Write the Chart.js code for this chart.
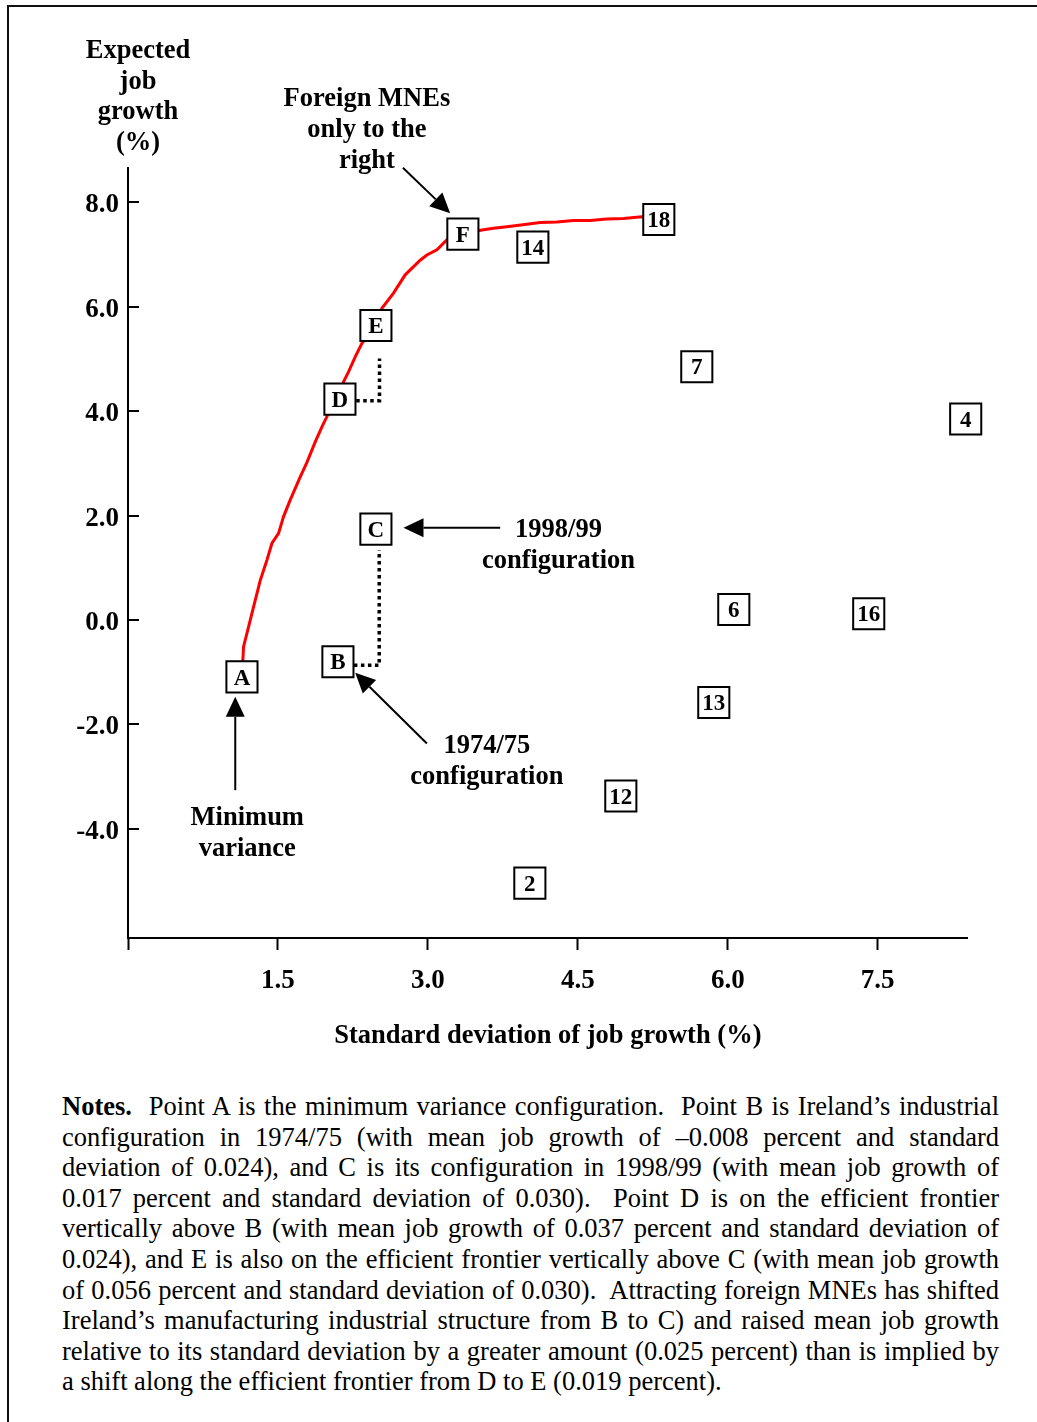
<!DOCTYPE html>
<html>
<head>
<meta charset="utf-8">
<script src="https://cdn.jsdelivr.net/npm/chart.js@4.4.0/dist/chart.umd.min.js"></script>
<style>
  html, body { margin: 0; padding: 0; background: #fff; overflow: hidden; }
  body { width: 1037px; height: 1422px; position: relative; }
  .frame { position: absolute; left: 7px; top: 5px; width: 1200px; height: 1600px; border-left: 2px solid #111; border-top: 2px solid #111; }
  #chart { position: absolute; left: 0; top: 0; }
  .notes { position: absolute; left: 62px; top: 1091px; width: 937px; color: #000;
           font: 26.5px 'Liberation Serif', 'Times New Roman', serif; line-height: 30.6px; }
  .notes div { text-align: justify; text-align-last: justify; }
  .notes div.last { text-align-last: left; }
</style>
</head>
<body>
<div class="frame"></div>
<canvas id="chart" width="1037" height="1080"></canvas>
<div class="notes">
  <div><b>Notes.</b>&nbsp; Point A is the minimum variance configuration.&nbsp; Point B is Ireland’s industrial</div>
  <div>configuration in 1974/75 (with mean job growth of –0.008 percent and standard</div>
  <div>deviation of 0.024), and C is its configuration in 1998/99 (with mean job growth of</div>
  <div>0.017 percent and standard deviation of 0.030).&nbsp; Point D is on the efficient frontier</div>
  <div>vertically above B (with mean job growth of 0.037 percent and standard deviation of</div>
  <div>0.024), and E is also on the efficient frontier vertically above C (with mean job growth</div>
  <div>of 0.056 percent and standard deviation of 0.030).&nbsp; Attracting foreign MNEs has shifted</div>
  <div>Ireland’s manufacturing industrial structure from B to C) and raised mean job growth</div>
  <div>relative to its standard deviation by a greater amount (0.025 percent) than is implied by</div>
  <div class="last">a shift along the efficient frontier from D to E (0.019 percent).</div>
</div>
<script>
const serif = "'Liberation Serif', 'Times New Roman', serif";

// axis ticks
const xTicks = [0, 1.5, 3.0, 4.5, 6.0, 7.5];
const yTicks = [-4, -2, 0, 2, 4, 6, 8];

// labelled configurations (standard deviation %, expected growth %)
const pointLabels = ['A', 'B', 'C', 'D', 'E', 'F', '14', '18', '7', '4', '6', '16', '13', '12', '2'];
const pointSd = [1.14, 2.10, 2.48, 2.12, 2.48, 3.35, 4.05, 5.31, 5.69, 8.38, 6.06, 7.41, 5.86, 4.93, 4.02];
const pointGrowth = [-1.09, -0.80, 1.74, 4.23, 5.64, 7.39, 7.14, 7.67, 4.85, 3.85, 0.20, 0.12, -1.58, -3.37, -5.04];

// efficient frontier
const frontierSd = [1.14, 1.156, 1.206, 1.256, 1.323, 1.39, 1.44, 1.506, 1.556, 1.623, 1.723, 1.79, 1.873, 1.94,
  2.006, 2.116, 2.156, 2.206, 2.273, 2.34, 2.483, 2.54, 2.656, 2.773, 2.923, 2.99, 3.09, 3.19, 3.35, 3.54, 3.656,
  3.79, 3.99, 4.123, 4.29, 4.456, 4.623, 4.79, 4.956, 5.14, 5.306];
const frontierGrowth = [-1.09, -0.51, -0.13, 0.25, 0.76, 1.15, 1.47, 1.66, 1.98, 2.30, 2.74, 3.02, 3.41, 3.70,
  3.96, 4.23, 4.56, 4.75, 5.04, 5.30, 5.64, 5.97, 6.26, 6.61, 6.89, 6.99, 7.09, 7.28, 7.39, 7.47, 7.50,
  7.53, 7.58, 7.61, 7.62, 7.65, 7.65, 7.68, 7.69, 7.72, 7.675];

// dotted links B -> C and D -> E
const linkBCSd = [2.26, 2.513, 2.513];
const linkBCGrowth = [-0.865, -0.865, 1.34];
const linkDESd = [2.283, 2.516, 2.516];
const linkDEGrowth = [4.20, 4.20, 5.01];

// callouts, anchored in data units
const calloutText = [
  { lines: ['Foreign MNEs', 'only to the', 'right'], sd: 2.39, growth: 9.845 },
  { lines: ['1998/99', 'configuration'], sd: 4.306, growth: 1.582 },
  { lines: ['1974/75', 'configuration'], sd: 3.59, growth: -2.556 },
  { lines: ['Minimum', 'variance'], sd: 1.193, growth: -3.92 }
];
const calloutArrows = [
  { from: [2.75, 8.66], to: [3.223, 7.79] },
  { from: [3.723, 1.766], to: [2.756, 1.766] },
  { from: [2.99, -2.364], to: [2.273, -1.011] },
  { from: [1.073, -3.259], to: [1.073, -1.471] }
];

const toXY = (xs, ys) => xs.map((v, i) => ({ x: v, y: ys[i] }));

function drawArrow(ctx, x1, y1, x2, y2) {
  const a = Math.atan2(y2 - y1, x2 - x1);
  const len = 20, half = 9.5;
  const bx = x2 - len * Math.cos(a), by = y2 - len * Math.sin(a);
  ctx.beginPath();
  ctx.moveTo(x1, y1);
  ctx.lineTo(bx, by);
  ctx.stroke();
  ctx.beginPath();
  ctx.moveTo(x2, y2);
  ctx.lineTo(bx + half * Math.sin(a), by - half * Math.cos(a));
  ctx.lineTo(bx - half * Math.sin(a), by + half * Math.cos(a));
  ctx.closePath();
  ctx.fill();
}

const decorations = {
  id: 'decorations',
  afterDatasetsDraw(chart) {
    const { ctx } = chart;
    const meta = chart.getDatasetMeta(0);
    ctx.save();
    ctx.fillStyle = '#000';
    ctx.font = 'bold 23px ' + serif;
    ctx.textAlign = 'center';
    ctx.textBaseline = 'alphabetic';
    meta.data.forEach((pt, i) => {
      ctx.fillText(pointLabels[i], pt.x, pt.y + 7.6);
    });
    ctx.restore();
  },
  afterDraw(chart) {
    const { ctx, chartArea, scales: { x, y } } = chart;
    ctx.save();
    ctx.strokeStyle = '#000';
    ctx.fillStyle = '#000';

    // inward tick marks on the y axis
    ctx.lineWidth = 2;
    yTicks.forEach(v => {
      const py = Math.round(y.getPixelForValue(v));
      ctx.beginPath();
      ctx.moveTo(chartArea.left, py);
      ctx.lineTo(chartArea.left + 11, py);
      ctx.stroke();
    });

    // y axis title, stacked above the axis
    ctx.font = 'bold 26.5px ' + serif;
    ctx.textAlign = 'center';
    ctx.textBaseline = 'alphabetic';
    ['Expected', 'job', 'growth', '(%)'].forEach((t, i) => {
      ctx.fillText(t, chartArea.left + 10, chartArea.top - 110 + i * 30.5);
    });

    calloutText.forEach(c => {
      const px = x.getPixelForValue(c.sd);
      const py = y.getPixelForValue(c.growth);
      c.lines.forEach((t, i) => ctx.fillText(t, px, py + i * 31));
    });

    ctx.lineWidth = 2;
    calloutArrows.forEach(a => {
      drawArrow(ctx,
        x.getPixelForValue(a.from[0]), y.getPixelForValue(a.from[1]),
        x.getPixelForValue(a.to[0]), y.getPixelForValue(a.to[1]));
    });
    ctx.restore();
  }
};

new Chart(document.getElementById('chart'), {
  type: 'scatter',
  data: {
    datasets: [{
      label: 'Configurations',
      data: toXY(pointSd, pointGrowth),
      pointStyle: 'rect',
      pointRadius: 22,
      backgroundColor: '#fff',
      borderColor: '#000',
      borderWidth: 2,
      clip: false,
      order: 0
    }, {
      label: 'Efficient frontier',
      data: toXY(frontierSd, frontierGrowth),
      showLine: true,
      borderColor: '#ff0000',
      borderWidth: 3,
      pointRadius: 0,
      tension: 0,
      order: 2
    }, {
      label: 'B to C',
      data: toXY(linkBCSd, linkBCGrowth),
      showLine: true,
      borderColor: '#000',
      borderWidth: 3.5,
      borderDash: [3.5, 3.5],
      pointRadius: 0,
      order: 1
    }, {
      label: 'D to E',
      data: toXY(linkDESd, linkDEGrowth),
      showLine: true,
      borderColor: '#000',
      borderWidth: 3.5,
      borderDash: [3.5, 3.5],
      pointRadius: 0,
      order: 1
    }]
  },
  options: {
    responsive: false,
    animation: false,
    events: [],
    layout: { padding: { top: 168.3, left: 0, right: 69.3, bottom: 0 } },
    plugins: { legend: { display: false }, tooltip: { enabled: false } },
    scales: {
      x: {
        type: 'linear',
        min: 0,
        max: 8.4,
        afterBuildTicks: s => { s.ticks = xTicks.map(v => ({ value: v })); },
        afterFit: s => { s.height = 142; },
        ticks: {
          autoSkip: false,
          maxRotation: 0,
          padding: 15,
          color: '#000',
          font: { family: serif, size: 27, weight: 'bold' },
          callback: v => (v === 0 ? '' : v.toFixed(1))
        },
        grid: { drawOnChartArea: false, drawTicks: true, tickLength: 12, tickWidth: 2, tickColor: '#000', color: '#000' },
        border: { display: true, color: '#000', width: 2 },
        title: {
          display: true,
          text: 'Standard deviation of job growth (%)',
          color: '#000',
          font: { family: serif, size: 26.5, weight: 'bold' },
          padding: { top: 0, bottom: 28 }
        }
      },
      y: {
        type: 'linear',
        min: -6.09,
        max: 8.65,
        afterBuildTicks: s => { s.ticks = yTicks.map(v => ({ value: v })); },
        afterFit: s => { s.width = 128; },
        ticks: {
          autoSkip: false,
          padding: 9,
          labelOffset: 3,
          color: '#000',
          font: { family: serif, size: 27, weight: 'bold' },
          callback: v => v.toFixed(1)
        },
        grid: { drawOnChartArea: false, drawTicks: false },
        border: { display: true, color: '#000', width: 2 }
      }
    }
  },
  plugins: [decorations]
});
</script>
</body>
</html>
